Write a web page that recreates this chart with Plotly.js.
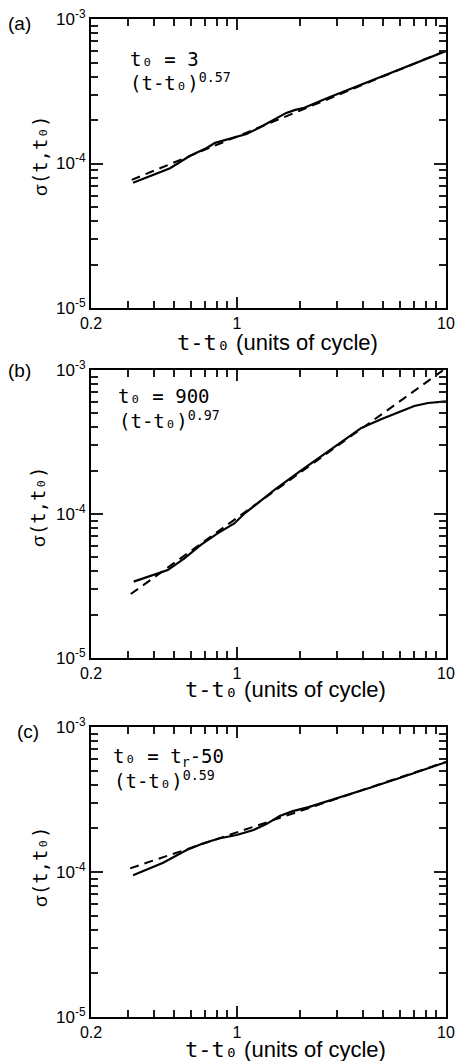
<!DOCTYPE html>
<html>
<head>
<meta charset="utf-8">
<script src="https://cdn.plot.ly/plotly-3.0.1.min.js"></script>
<style>
html,body{margin:0;padding:0;background:#fff;}
#plot{width:456px;height:1061px;}
</style>
</head>
<body>
<div id="plot"></div>
<script>
// ---- data ----
// panel (a): t0 = 3
const xA = [0.318, 0.397, 0.478, 0.596, 0.716, 0.785, 0.925, 1.11, 1.29, 1.49, 1.72, 1.9, 2.1, 2.69, 3.87, 5.6, 7.52, 10];
const yA = [7.36e-5, 8.3e-5, 9.27e-5, 1.13e-4, 1.28e-4, 1.39e-4, 1.48e-4, 1.6e-4, 1.78e-4, 2.0e-4, 2.24e-4, 2.35e-4, 2.43e-4, 2.83e-4, 3.49e-4, 4.31e-4, 5.14e-4, 6.0e-4];
const fitXA = [0.313, 10];
const fitYA = [7.7e-5, 6.05e-4];

// panel (b): t0 = 900
const xB = [0.32, 0.402, 0.466, 0.56, 0.671, 0.807, 0.97, 1.08, 1.51, 2.02, 2.6, 3.26, 3.92, 4.89, 6.09, 7.05, 8.2, 10];
const yB = [3.39e-5, 3.77e-5, 4.08e-5, 4.92e-5, 6.1e-5, 7.34e-5, 8.6e-5, 1.0e-4, 1.47e-4, 2.0e-4, 2.6e-4, 3.27e-4, 3.95e-4, 4.55e-4, 5.2e-4, 5.62e-4, 5.9e-4, 6.05e-4];
const fitXB = [0.31, 10];
const fitYB = [2.78e-5, 1.03e-3];

// panel (c): t0 = tr - 50
const xC = [0.318, 0.443, 0.574, 0.69, 0.828, 0.995, 1.2, 1.38, 1.6, 1.85, 2.2, 3.0, 4.33, 6.25, 10];
const yC = [9.5e-5, 1.16e-4, 1.42e-4, 1.58e-4, 1.71e-4, 1.8e-4, 1.95e-4, 2.14e-4, 2.43e-4, 2.63e-4, 2.8e-4, 3.22e-4, 3.81e-4, 4.54e-4, 5.72e-4];
const fitXC = [0.308, 10];
const fitYC = [1.06e-4, 5.75e-4];

// ticks
const xMajor = [0.2, 1, 10];
const xMajorText = ['0.2', '1', '10'];
const xMinor = [0.3, 0.4, 0.5, 0.6, 0.7, 0.8, 0.9, 2, 3, 4, 5, 6, 7, 8, 9];
const yMajor = [1e-5, 1e-4, 1e-3];
const yMajorText = ['10<sup>-5</sup>', '10<sup>-4</sup>', '10<sup>-3</sup>'];
const yMinor = [2e-5, 3e-5, 4e-5, 5e-5, 6e-5, 7e-5, 8e-5, 9e-5, 2e-4, 3e-4, 4e-4, 5e-4, 6e-4, 7e-4, 8e-4, 9e-4];

// text
const panelLabels = ['(a)', '(b)', '(c)'];
const line1 = ['t₀ = 3', 't₀ = 900', 't₀ = t<sub>r</sub>-50'];
const line2 = ['(t-t₀)<sup>0.57</sup>', '(t-t₀)<sup>0.97</sup>', '(t-t₀)<sup>0.59</sup>'];

// ---- figure ----
const H = 1061, W = 456;
const MONO = 'DejaVu Sans Mono';
const SANS = 'Liberation Sans, Arial, sans-serif';
const TICKC = '#1e1e1e';
const boxes = [ {top: 19, bot: 308}, {top: 370, bot: 658}, {top: 727, bot: 1017} ];
const xDom = [91 / W, 446 / W];

function xaxis(anchor) {
  return {
    type: 'log', range: [Math.log10(0.2), 1], domain: xDom, anchor: anchor,
    showline: true, linecolor: 'black', linewidth: 2, mirror: 'allticks',
    ticks: 'inside', ticklen: 11, tickwidth: 2, tickcolor: TICKC,
    tickmode: 'array', tickvals: xMajor, ticktext: xMajorText,
    minor: {tickmode: 'array', tickvals: xMinor, ticks: 'inside', ticklen: 7, tickwidth: 2, tickcolor: TICKC},
    showgrid: false, zeroline: false,
    tickfont: {family: SANS, size: 16, color: 'black'}
  };
}
function yaxis(anchor, box) {
  return {
    type: 'log', range: [-5, -3], domain: [1 - box.bot / H, 1 - box.top / H], anchor: anchor,
    showline: true, linecolor: 'black', linewidth: 2, mirror: 'allticks',
    ticks: 'inside', ticklen: 12, tickwidth: 2, tickcolor: TICKC,
    tickmode: 'array', tickvals: yMajor, ticktext: yMajorText,
    minor: {tickmode: 'array', tickvals: yMinor, ticks: 'inside', ticklen: 7, tickwidth: 2, tickcolor: TICKC},
    showgrid: false, zeroline: false,
    tickfont: {family: SANS, size: 17, color: 'black'}
  };
}

const series = [[xA, yA, fitXA, fitYA], [xB, yB, fitXB, fitYB], [xC, yC, fitXC, fitYC]];
const traces = [];
series.forEach((s, i) => {
  const xa = i === 0 ? 'x' : 'x' + (i + 1);
  const ya = i === 0 ? 'y' : 'y' + (i + 1);
  traces.push({x: s[2], y: s[3], xaxis: xa, yaxis: ya, mode: 'lines', line: {color: 'black', width: 2, dash: '9px,6px'}});
  traces.push({x: s[0], y: s[1], xaxis: xa, yaxis: ya, mode: 'lines', line: {color: 'black', width: 2.2}});
});

const ann = [];
const xTitle = '<span style="font-family:' + MONO + '">t-t₀</span> (units of cycle)';
const yTitle = 'σ<span style="font-family:' + MONO + '">(t,t₀)</span>';
const xTitlePos = [{x: 277, y: 343}, {x: 285, y: 689}, {x: 285, y: 1049}];
const yTitlePos = [{x: 40, y: 156}, {x: 38, y: 507}, {x: 40, y: 867}];
const labPos = [{x: 6, y: 23}, {x: 6, y: 371}, {x: 15, y: 731}];
const t1Pos = [{x: 128, y: 59}, {x: 116, y: 396}, {x: 111, y: 757}];
const t2Pos = [{x: 128, y: 82}, {x: 117, y: 420}, {x: 112, y: 780}];
for (let i = 0; i < 3; i++) {
  ann.push({xref: 'paper', yref: 'paper', x: xTitlePos[i].x / W, y: 1 - xTitlePos[i].y / H, xanchor: 'center', yanchor: 'middle', showarrow: false, text: xTitle, font: {family: SANS, size: 22, color: 'black'}});
  ann.push({xref: 'paper', yref: 'paper', x: yTitlePos[i].x / W, y: 1 - yTitlePos[i].y / H, xanchor: 'center', yanchor: 'middle', showarrow: false, textangle: -90, text: yTitle, font: {family: SANS, size: 19, color: 'black'}});
  ann.push({xref: 'paper', yref: 'paper', x: labPos[i].x / W, y: 1 - labPos[i].y / H, xanchor: 'left', yanchor: 'middle', showarrow: false, text: panelLabels[i], font: {family: SANS, size: 19, color: 'black'}});
  ann.push({xref: 'paper', yref: 'paper', x: t1Pos[i].x / W, y: 1 - t1Pos[i].y / H, xanchor: 'left', yanchor: 'middle', showarrow: false, align: 'left', text: line1[i], font: {family: MONO, size: 19, color: 'black'}});
  ann.push({xref: 'paper', yref: 'paper', x: t2Pos[i].x / W, y: 1 - t2Pos[i].y / H, xanchor: 'left', yanchor: 'middle', showarrow: false, align: 'left', text: line2[i], font: {family: MONO, size: 19, color: 'black'}});
}

const layout = {
  width: W, height: H,
  margin: {l: 0, r: 0, t: 0, b: 0},
  showlegend: false,
  xaxis: xaxis('y'), yaxis: yaxis('x', boxes[0]),
  xaxis2: xaxis('y2'), yaxis2: yaxis('x2', boxes[1]),
  xaxis3: xaxis('y3'), yaxis3: yaxis('x3', boxes[2]),
  annotations: ann
};

Plotly.newPlot('plot', traces, layout, {displayModeBar: false, staticPlot: true});
</script>
</body>
</html>
